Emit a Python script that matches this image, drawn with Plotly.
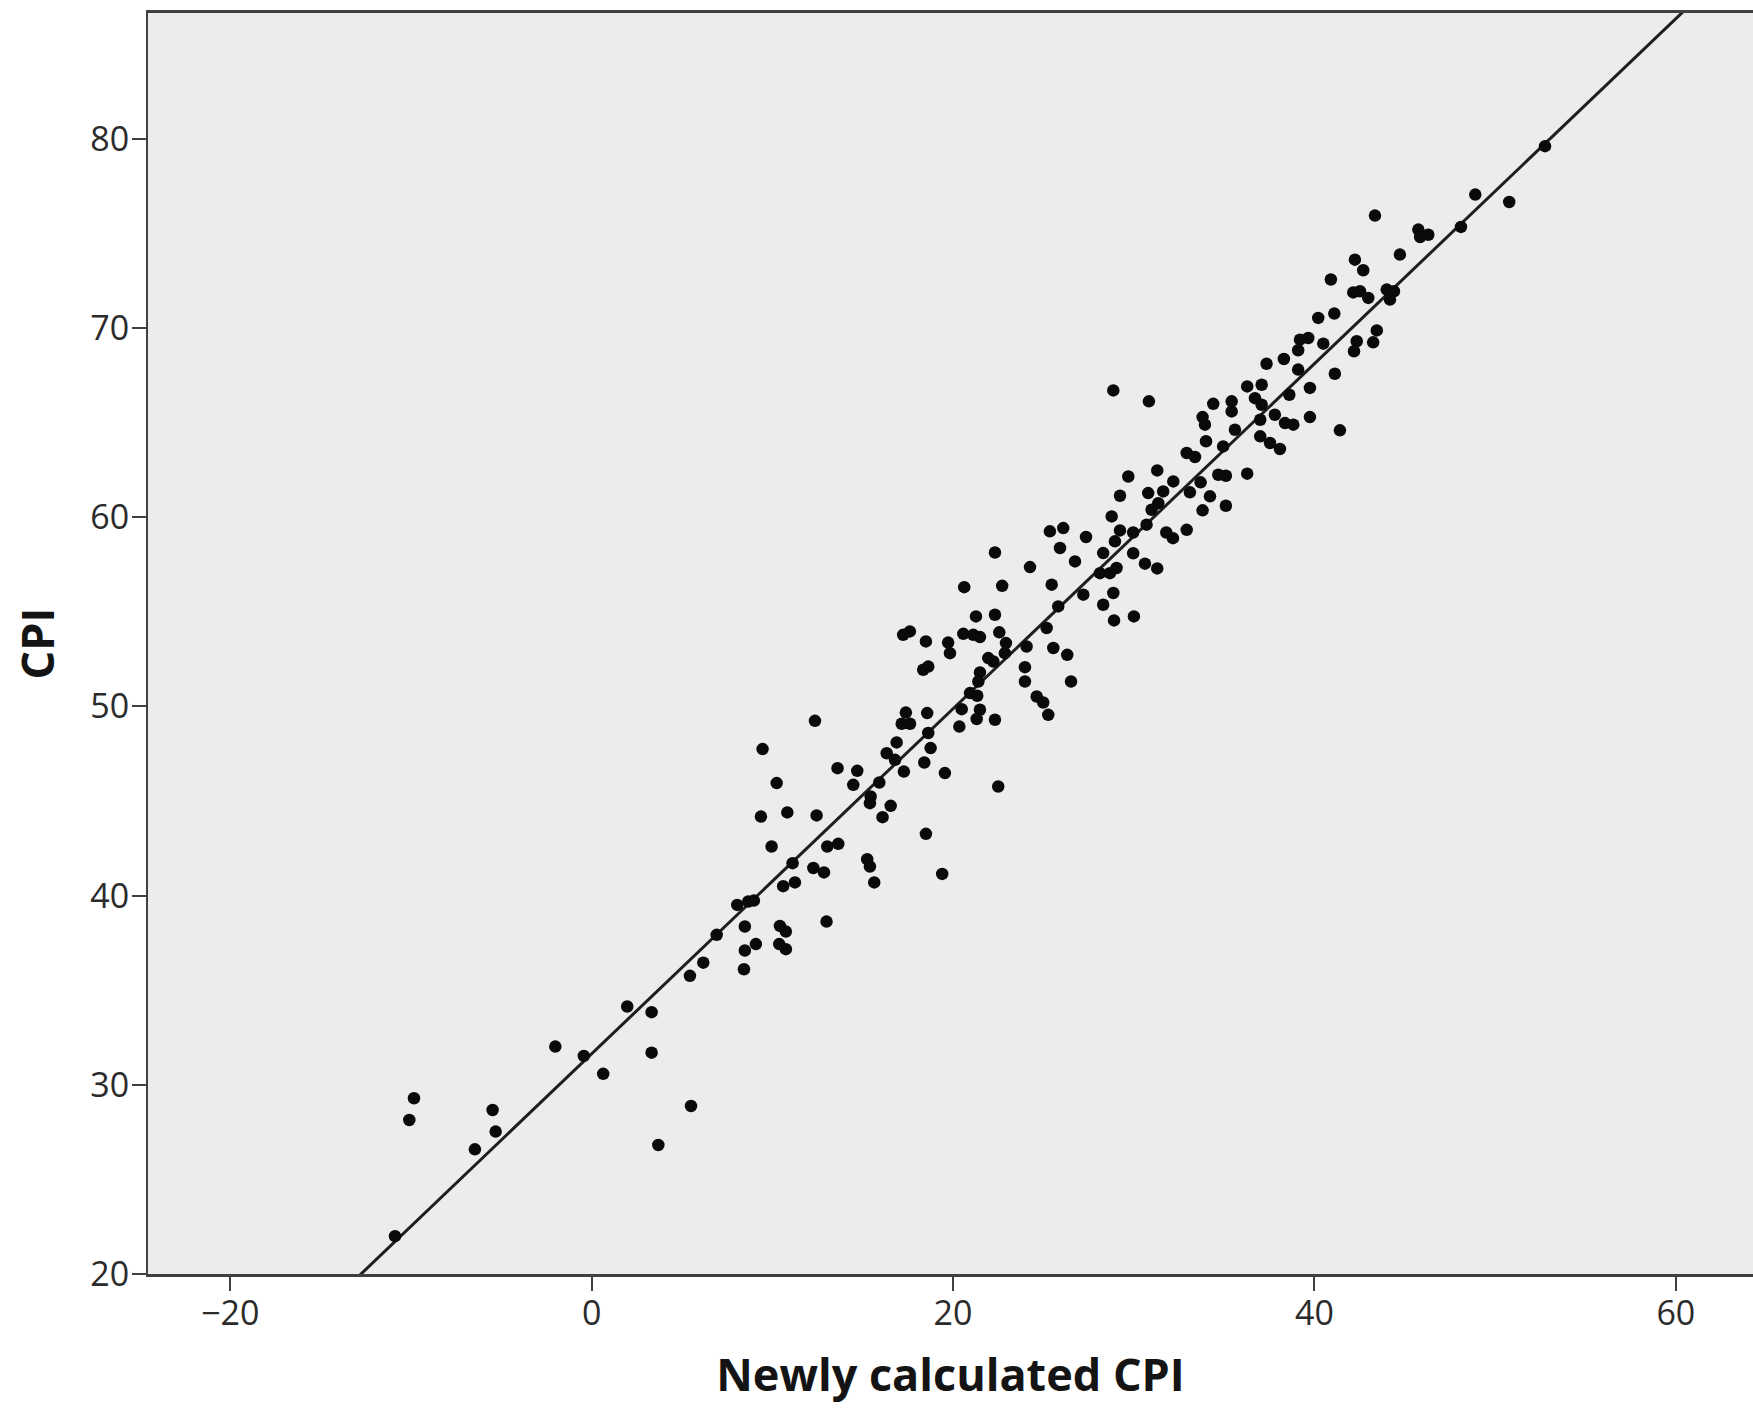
import numpy as np
import plotly.graph_objects as go

# Newly calculated CPI (x) and CPI (y)
new_cpi = [
    -10.88, -9.83, -10.09, -5.48, -5.31, -6.46, -2.01, -0.43, 0.64, 1.97, 3.32, 3.32, 5.5, 3.69, 5.44, 6.18,
    12.36, 9.46, 17.39, 18.57, 17.16, 17.62, 18.63, 16.88, 18.76, 16.33, 16.79, 18.41, 17.28, 19.55, 13.61,
    14.7, 14.48, 15.92, 15.44, 15.4, 16.55, 16.1, 10.24, 9.37, 10.83, 12.45, 9.96, 18.5, 19.4, 13.04, 13.65,
    11.12, 12.27, 12.86, 15.25, 15.4, 15.64, 10.6, 11.25, 8.06, 8.67, 8.98, 8.48, 6.92, 10.42, 10.75, 9.09,
    8.48, 10.38, 10.75, 13.0, 8.43,
    22.32, 25.36, 26.1, 25.92, 27.36, 28.78, 29.24, 24.26, 26.75, 28.31, 28.96, 28.13, 28.68, 29.05, 20.62,
    22.72, 25.46, 27.21, 28.31, 28.87, 28.91, 25.82, 21.27, 22.32, 22.56, 25.18, 17.24, 17.61, 18.5, 19.73,
    19.83, 20.57, 21.12, 21.49, 24.07, 22.93, 22.87, 25.55, 26.32, 22.23, 21.95, 18.35, 18.63, 23.98, 23.98,
    26.53, 21.49, 21.4, 20.94, 21.34, 24.63, 24.99, 25.27, 20.48, 21.49, 21.31, 22.32, 20.35, 22.5,
    28.87, 30.84, 37.35, 38.31, 39.1, 36.28, 37.08, 39.75, 34.4, 35.42, 35.42, 36.71, 37.08, 38.61, 37.81,
    37.0, 38.37, 38.83, 39.75, 33.81, 33.94, 34.0, 34.95, 35.6, 37.0, 37.54, 38.09, 32.93, 33.39, 36.28,
    34.68, 35.1, 29.7, 31.3, 32.19, 33.7, 30.8, 31.63, 33.11, 34.22, 35.1, 33.81, 31.36, 30.99, 29.24, 29.97,
    30.71, 31.8, 32.17, 32.93, 29.97, 30.62, 31.3, 30.01,
    52.76, 48.9, 50.78, 48.11, 43.35, 45.75, 45.85, 46.3, 44.73, 42.24, 42.7, 40.91, 42.15, 42.52, 42.98,
    44.0, 44.4, 44.18, 40.21, 41.1, 43.45, 39.2, 39.66, 40.49, 39.1, 42.34, 43.25, 42.19, 41.13, 41.41,
]
cpi = [
    22.0, 29.29, 28.14, 28.67, 27.53, 26.59, 32.02, 31.53, 30.58, 34.14, 33.84, 31.7, 28.88, 26.82, 35.76, 36.46,
    49.24, 47.75, 49.68, 49.65, 49.09, 49.09, 48.6, 48.1, 47.8, 47.53, 47.18, 47.04, 46.56, 46.48, 46.74,
    46.6, 45.86, 45.98, 45.24, 44.89, 44.75, 44.15, 45.95, 44.18, 44.4, 44.24, 42.6, 43.27, 41.15, 42.6, 42.74,
    41.72, 41.46, 41.23, 41.93, 41.54, 40.7, 40.5, 40.7, 39.51, 39.69, 39.74, 38.37, 37.93, 38.4, 38.1, 37.44,
    37.1, 37.44, 37.17, 38.63, 36.11,
    58.14, 59.26, 59.43, 58.38, 58.96, 60.05, 61.14, 57.37, 57.67, 58.11, 58.73, 57.05, 57.05, 57.32, 56.31,
    56.38, 56.44, 55.91, 55.38, 56.0, 54.55, 55.29, 54.76, 54.85, 53.92, 54.15, 53.79, 53.97, 53.44, 53.38,
    52.82, 53.84, 53.79, 53.67, 53.17, 53.35, 52.82, 53.09, 52.73, 52.38, 52.56, 51.94, 52.11, 52.08, 51.32,
    51.32, 51.8, 51.32, 50.71, 50.57, 50.53, 50.21, 49.56, 49.86, 49.83, 49.34, 49.3, 48.94, 45.77,
    66.71, 66.13, 68.12, 68.37, 67.81, 66.92, 67.01, 66.84, 66.0, 66.13, 65.6, 66.3, 65.95, 66.48, 65.42,
    65.16, 64.98, 64.9, 65.3, 65.3, 64.9, 64.02, 63.75, 64.63, 64.28, 63.93, 63.61, 63.4, 63.19, 62.31,
    62.25, 62.2, 62.16, 62.48, 61.9, 61.85, 61.28, 61.37, 61.32, 61.11, 60.61, 60.37, 60.75, 60.4, 59.31, 59.2,
    59.61, 59.2, 58.9, 59.34, 58.1, 57.55, 57.3, 54.76,
    79.62, 77.06, 76.67, 75.35, 75.95, 75.21, 74.82, 74.94, 73.89, 73.62, 73.06, 72.57, 71.89, 71.95, 71.6,
    72.04, 71.95, 71.51, 70.54, 70.77, 69.88, 69.39, 69.48, 69.18, 68.83, 69.31, 69.25, 68.78, 67.59, 64.6,
]

# Fit line
fit_intercept = 31.64
fit_slope = 0.912

x_ticks = [-20, 0, 20, 40, 60]
y_ticks = [20, 30, 40, 50, 60, 70, 80]
x_range = [-24.55, 64.27]
y_range = [20, 86.66]

line_x = np.array(x_range)
line_y = fit_intercept + fit_slope * line_x

fig = go.Figure()
fig.add_trace(go.Scatter(
    x=line_x, y=line_y, mode="lines",
    line=dict(color="#1e1e1e", width=3), hoverinfo="skip", showlegend=False,
))
fig.add_trace(go.Scatter(
    x=new_cpi, y=cpi, mode="markers",
    marker=dict(color="#0a0a0a", size=12.5, line=dict(width=0)), showlegend=False,
))

tick_font = dict(family="Open Sans", size=34, color="#2b2b2b")
title_font = dict(family="Open Sans", size=45, color="#141414", weight="bold")

fig.update_layout(
    width=1753, height=1413,
    margin=dict(l=148, r=0, t=13, b=139, pad=0),
    paper_bgcolor="white", plot_bgcolor="#ececec",
    xaxis=dict(
        range=x_range, tickvals=x_ticks, showgrid=False, zeroline=False,
        showline=True, linecolor="#404040", linewidth=3, mirror=True,
        ticks="outside", ticklen=14, tickwidth=2, tickcolor="#404040",
        ticklabelstandoff=-7,
        tickfont=tick_font,
        title=dict(text="Newly calculated CPI", font=title_font, standoff=26),
    ),
    yaxis=dict(
        range=y_range, tickvals=y_ticks, showgrid=False, zeroline=False,
        showline=True, linecolor="#404040", linewidth=2,
        ticks="outside", ticklen=14, tickwidth=2, tickcolor="#404040",
        ticklabelstandoff=-4,
        tickfont=tick_font,
        title=dict(text="CPI", font=title_font, standoff=22),
    ),
)

# remove the default page margin so the figure fills the window exactly
fig.write_html(
    "out.html",
    config={"displayModeBar": False},
    post_script="document.body.style.margin='0';document.body.style.overflow='hidden';",
)
